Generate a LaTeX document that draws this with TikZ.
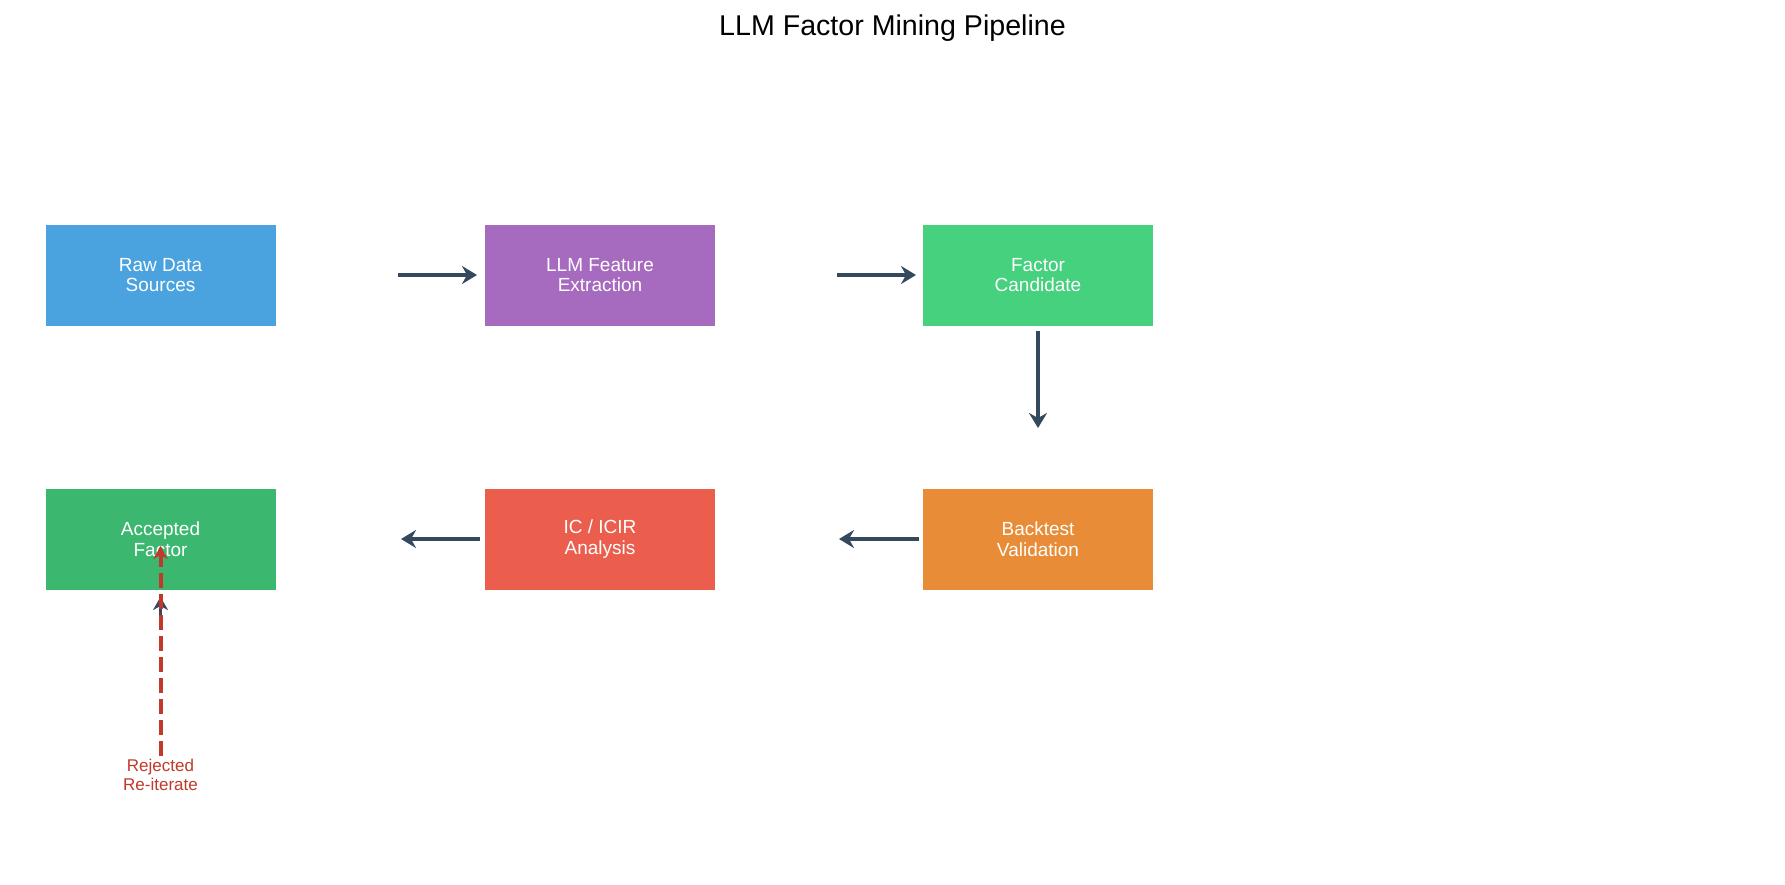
\documentclass[tikz,border=0pt]{standalone}
\usepackage{fontspec}
\setmainfont{Liberation Sans}
\usetikzlibrary{arrows.meta}
\definecolor{cblue}{HTML}{4AA3DF}
\definecolor{cpurple}{HTML}{A66BBE}
\definecolor{cgreen}{HTML}{45D17E}
\definecolor{cacc}{HTML}{3CB76F}
\definecolor{cred}{HTML}{EB5E4E}
\definecolor{corange}{HTML}{E88C37}
\definecolor{cdark}{HTML}{34495E}
\definecolor{crej}{HTML}{C0392B}
\tikzset{
  stagebox/.style={fill=#1, draw=none, minimum width=230pt, minimum height=101pt,
    inner sep=0pt, align=center, text=white, font=\fontsize{19}{20.5}\selectfont},
  flow/.style={draw=cdark, line width=4pt, -{Stealth[length=15pt,width=18pt,inset=5pt]}},
  rejflow/.style={draw=crej, line width=4pt, dash pattern=on 15pt off 6pt,
    -{Stealth[length=13pt,width=14pt,inset=4pt]}},
}
\begin{document}
\begin{tikzpicture}[x=1pt,y=-1pt]
\useasboundingbox (0,0) rectangle (1785,884);
\node[font=\fontsize{28.6}{32}\selectfont] (title) at (892.5,28.5) {LLM Factor Mining Pipeline};

\node[stagebox=cblue] (raw) at (160.5,275) {Raw Data\\Sources};
\node[stagebox=cpurple] (llm) at (600,275) {LLM Feature\\Extraction};
\node[stagebox=cgreen] (cand) at (1038,275) {Factor\\Candidate};
\node[stagebox=cacc] (acc) at (160.5,539) {Accepted\\Factor};
\node[stagebox=cred] (ic) at (600,539) {IC / ICIR\\Analysis};
\node[stagebox=corange] (bt) at (1038,539) {Backtest\\Validation};

\coordinate (a1s) at (398,275); \coordinate (a1e) at (477,275);
\coordinate (a2s) at (837,275); \coordinate (a2e) at (916,275);
\coordinate (a3s) at (1038,331); \coordinate (a3e) at (1038,428);
\coordinate (a4s) at (919,539); \coordinate (a4e) at (839,539);
\coordinate (a5s) at (480,539); \coordinate (a5e) at (401,539);

\draw[flow] (a1s) -- (a1e);
\draw[flow] (a2s) -- (a2e);
\draw[flow] (a3s) -- (a3e);
\draw[flow] (a4s) -- (a4e);
\draw[flow] (a5s) -- (a5e);

\node[text=crej, align=center, font=\fontsize{17}{18.5}\selectfont] (rej) at (160.5,775) {Rejected\\Re-iterate};
\coordinate (d1s) at (160.5,624);
\coordinate (d1e) at (160.5,597);
\draw[flow, line width=3pt, -{Stealth[length=13pt,width=15pt,inset=4pt]}] (d1s) -- (d1e);
\coordinate (rtip) at (160.5,546);
\draw[rejflow] (rej.north) -- (rtip);
\end{tikzpicture}
\end{document}
